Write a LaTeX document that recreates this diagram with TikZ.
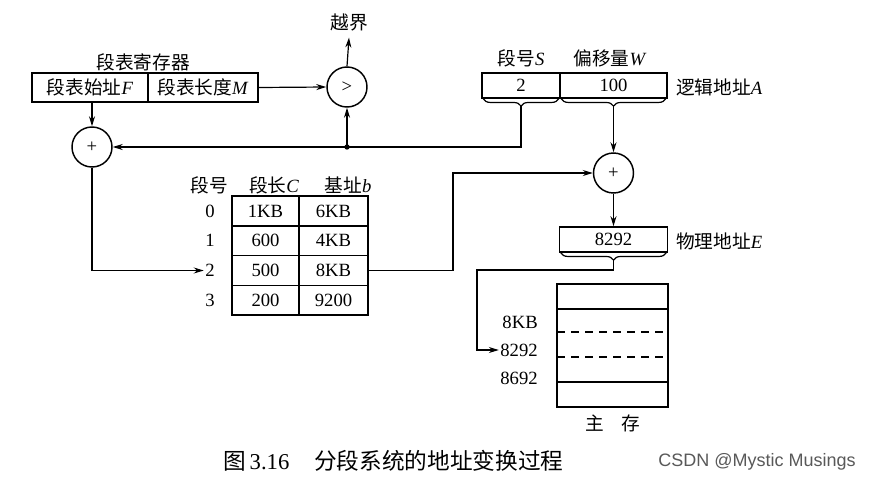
\documentclass[tikz,border=0pt]{standalone}
\usepackage{fontspec}
\setmainfont{Liberation Serif}
\newfontfamily\cjk{Noto Sans CJK SC}
\newfontfamily\csdnfont{Liberation Sans}
\usetikzlibrary{arrows.meta,decorations.pathreplacing}
\begin{document}
\begin{tikzpicture}[x=0.75pt,y=-0.75pt,
  box/.style={draw,line width=1.2pt,inner sep=0pt,font=\fontsize{14}{16}\selectfont},
  circ/.style={draw,circle,line width=1.1pt,minimum size=30pt,inner sep=0pt,font=\fontsize{14}{16}\selectfont},
  arr/.style={line width=0.9pt,-{Stealth[length=7.5pt,width=4.5pt]}},
  lbl/.style={inner sep=0pt,font=\fontsize{14}{16}\selectfont},
  brc/.style={decorate,decoration={brace,mirror,amplitude=5.5pt},line width=0.9pt},
  memline/.style={line width=0.9pt}]
\useasboundingbox[fill=white] (0,0) rectangle (874,482);

% segment table register
\node[lbl] (regT) at (143,62) {\cjk 段表寄存器};
\node[box,minimum width=87pt,minimum height=21.75pt] (regF) at (90,87.5) {{\cjk 段表始址}\textit{F}};
\node[box,minimum width=82.5pt,minimum height=21.75pt] (regM) at (203,87.5) {{\cjk 段表长度}\textit{M}};

% comparator
\node[circ] (cmp) at (347,87) {>};
\node[lbl] (over) at (349,22) {\cjk 越界};
\draw[arr] (cmp.north) -- ([yshift=-5pt]over.south);
\draw[arr] (regM.east) -- (cmp.west);

% adder 1
\node[circ] (add1) at (92,147) {+};
\draw[arr] (add1 |- regF.south) -- (add1.north);

% logical address
\node[lbl] (hS) at (521,58) {{\cjk 段号}\textit{S}};
\node[lbl] (hW) at (610,58) {{\cjk 偏移量}\textit{W}};
\node[box,minimum width=58.5pt,minimum height=18.75pt] (segS) at (521,85.5) {2};
\node[box,minimum width=80.25pt,minimum height=18.75pt] (offW) at (613.5,85.5) {100};
\node[lbl,anchor=west] (laddr) at (676,87) {{\cjk 逻辑地址}\textit{A}};
\draw[brc] ([xshift=1.5pt]segS.south west) -- ([xshift=-1.5pt]segS.south east);
\draw[brc] ([xshift=1.5pt]offW.south west) -- ([xshift=-1.5pt]offW.south east);
\coordinate (sTip) at ([yshift=-5.5pt]segS.south);
\coordinate (wTip) at ([yshift=-5.5pt]offW.south);

% segment number to adder 1, and to comparator
\coordinate (junc) at (cmp |- add1);
\draw[arr] (sTip) |- (add1.east);
\fill (junc) circle (2pt);
\draw[arr] (junc) -- (cmp.south);

% adder 2
\node[circ] (add2) at (613.5,173) {+};
\draw[arr] (wTip) -- (add2.north);

% physical address
\node[box,minimum width=81pt,minimum height=18.75pt] (phys) at (613.5,239.5) {8292};
\node[lbl,anchor=west] (paddr) at (676,241) {{\cjk 物理地址}\textit{E}};
\draw[arr] (add2.south) -- (phys.north);
\draw[brc] ([xshift=1.5pt]phys.south west) -- ([xshift=-1.5pt]phys.south east);
\coordinate (eTip) at ([yshift=-5.5pt]phys.south);

% segment table
\node[lbl] (hNo) at (209,185) {\cjk 段号};
\node[lbl] (hLen) at (274,185) {{\cjk 段长}\textit{C}};
\node[lbl] (hBase) at (348,185) {{\cjk 基址}\textit{b}};
\node[box,minimum width=50.25pt,minimum height=22.3pt] (c00) at (265.5,211) {1KB};
\node[box,minimum width=51.75pt,minimum height=22.3pt] (c01) at (333.5,211) {6KB};
\node[box,minimum width=50.25pt,minimum height=22.3pt] (c10) at (265.5,240.75) {600};
\node[box,minimum width=51.75pt,minimum height=22.3pt] (c11) at (333.5,240.75) {4KB};
\node[box,minimum width=50.25pt,minimum height=22.3pt] (c20) at (265.5,270.5) {500};
\node[box,minimum width=51.75pt,minimum height=22.3pt] (c21) at (333.5,270.5) {8KB};
\node[box,minimum width=50.25pt,minimum height=22.3pt] (c30) at (265.5,300.25) {200};
\node[box,minimum width=51.75pt,minimum height=22.3pt] (c31) at (333.5,300.25) {9200};
\node[lbl] (r0) at (210,211) {0};
\node[lbl] (r1) at (210,240.75) {1};
\node[lbl] (r2) at (210,270.5) {2};
\node[lbl] (r3) at (210,300.25) {3};

\draw[arr] (add1.south) |- ([xshift=-1pt]r2.west);
\coordinate (bend1) at (453,173);
\draw[arr] (c21.east) -| (bend1) -- (add2.west);

% main memory
\node[draw,line width=1.2pt,minimum width=83.25pt,minimum height=92.25pt,inner sep=0pt] (mem) at (612.5,345.5) {};
\draw[memline] (557,309) -- (668,309);
\draw[memline,dash pattern=on 6pt off 4.5pt] (557,332) -- (668,332);
\draw[memline,dash pattern=on 6pt off 4.5pt] (557,357) -- (668,357);
\draw[memline] (557,382) -- (668,382);
\node[lbl,anchor=east] (m8KB) at (538,322) {8KB};
\node[lbl,anchor=east] (m8292) at (538,350) {8292};
\node[lbl,anchor=east] (m8692) at (538,378) {8692};
\node[lbl] (memT) at (613,423) {\cjk 主\hspace{0.9em}存};
\coordinate (bend2) at (477,270);
\draw[arr] (eTip) |- (bend2) |- ([xshift=-1pt]m8292.west);

% caption
\node[inner sep=0pt,anchor=west,font=\fontsize{17}{19}\selectfont] (cap1) at (223,461) {{\cjk 图}\,3.16};
\node[inner sep=0pt,anchor=west,font=\fontsize{17}{19}\selectfont] (cap2) at (314,461) {\cjk 分段系统的地址变换过程};
\node[inner sep=0pt,anchor=west,text=black!65,font=\csdnfont\fontsize{13.5}{15}\selectfont] (csdn) at (658,462) {CSDN @Mystic Musings};
\end{tikzpicture}
\end{document}
